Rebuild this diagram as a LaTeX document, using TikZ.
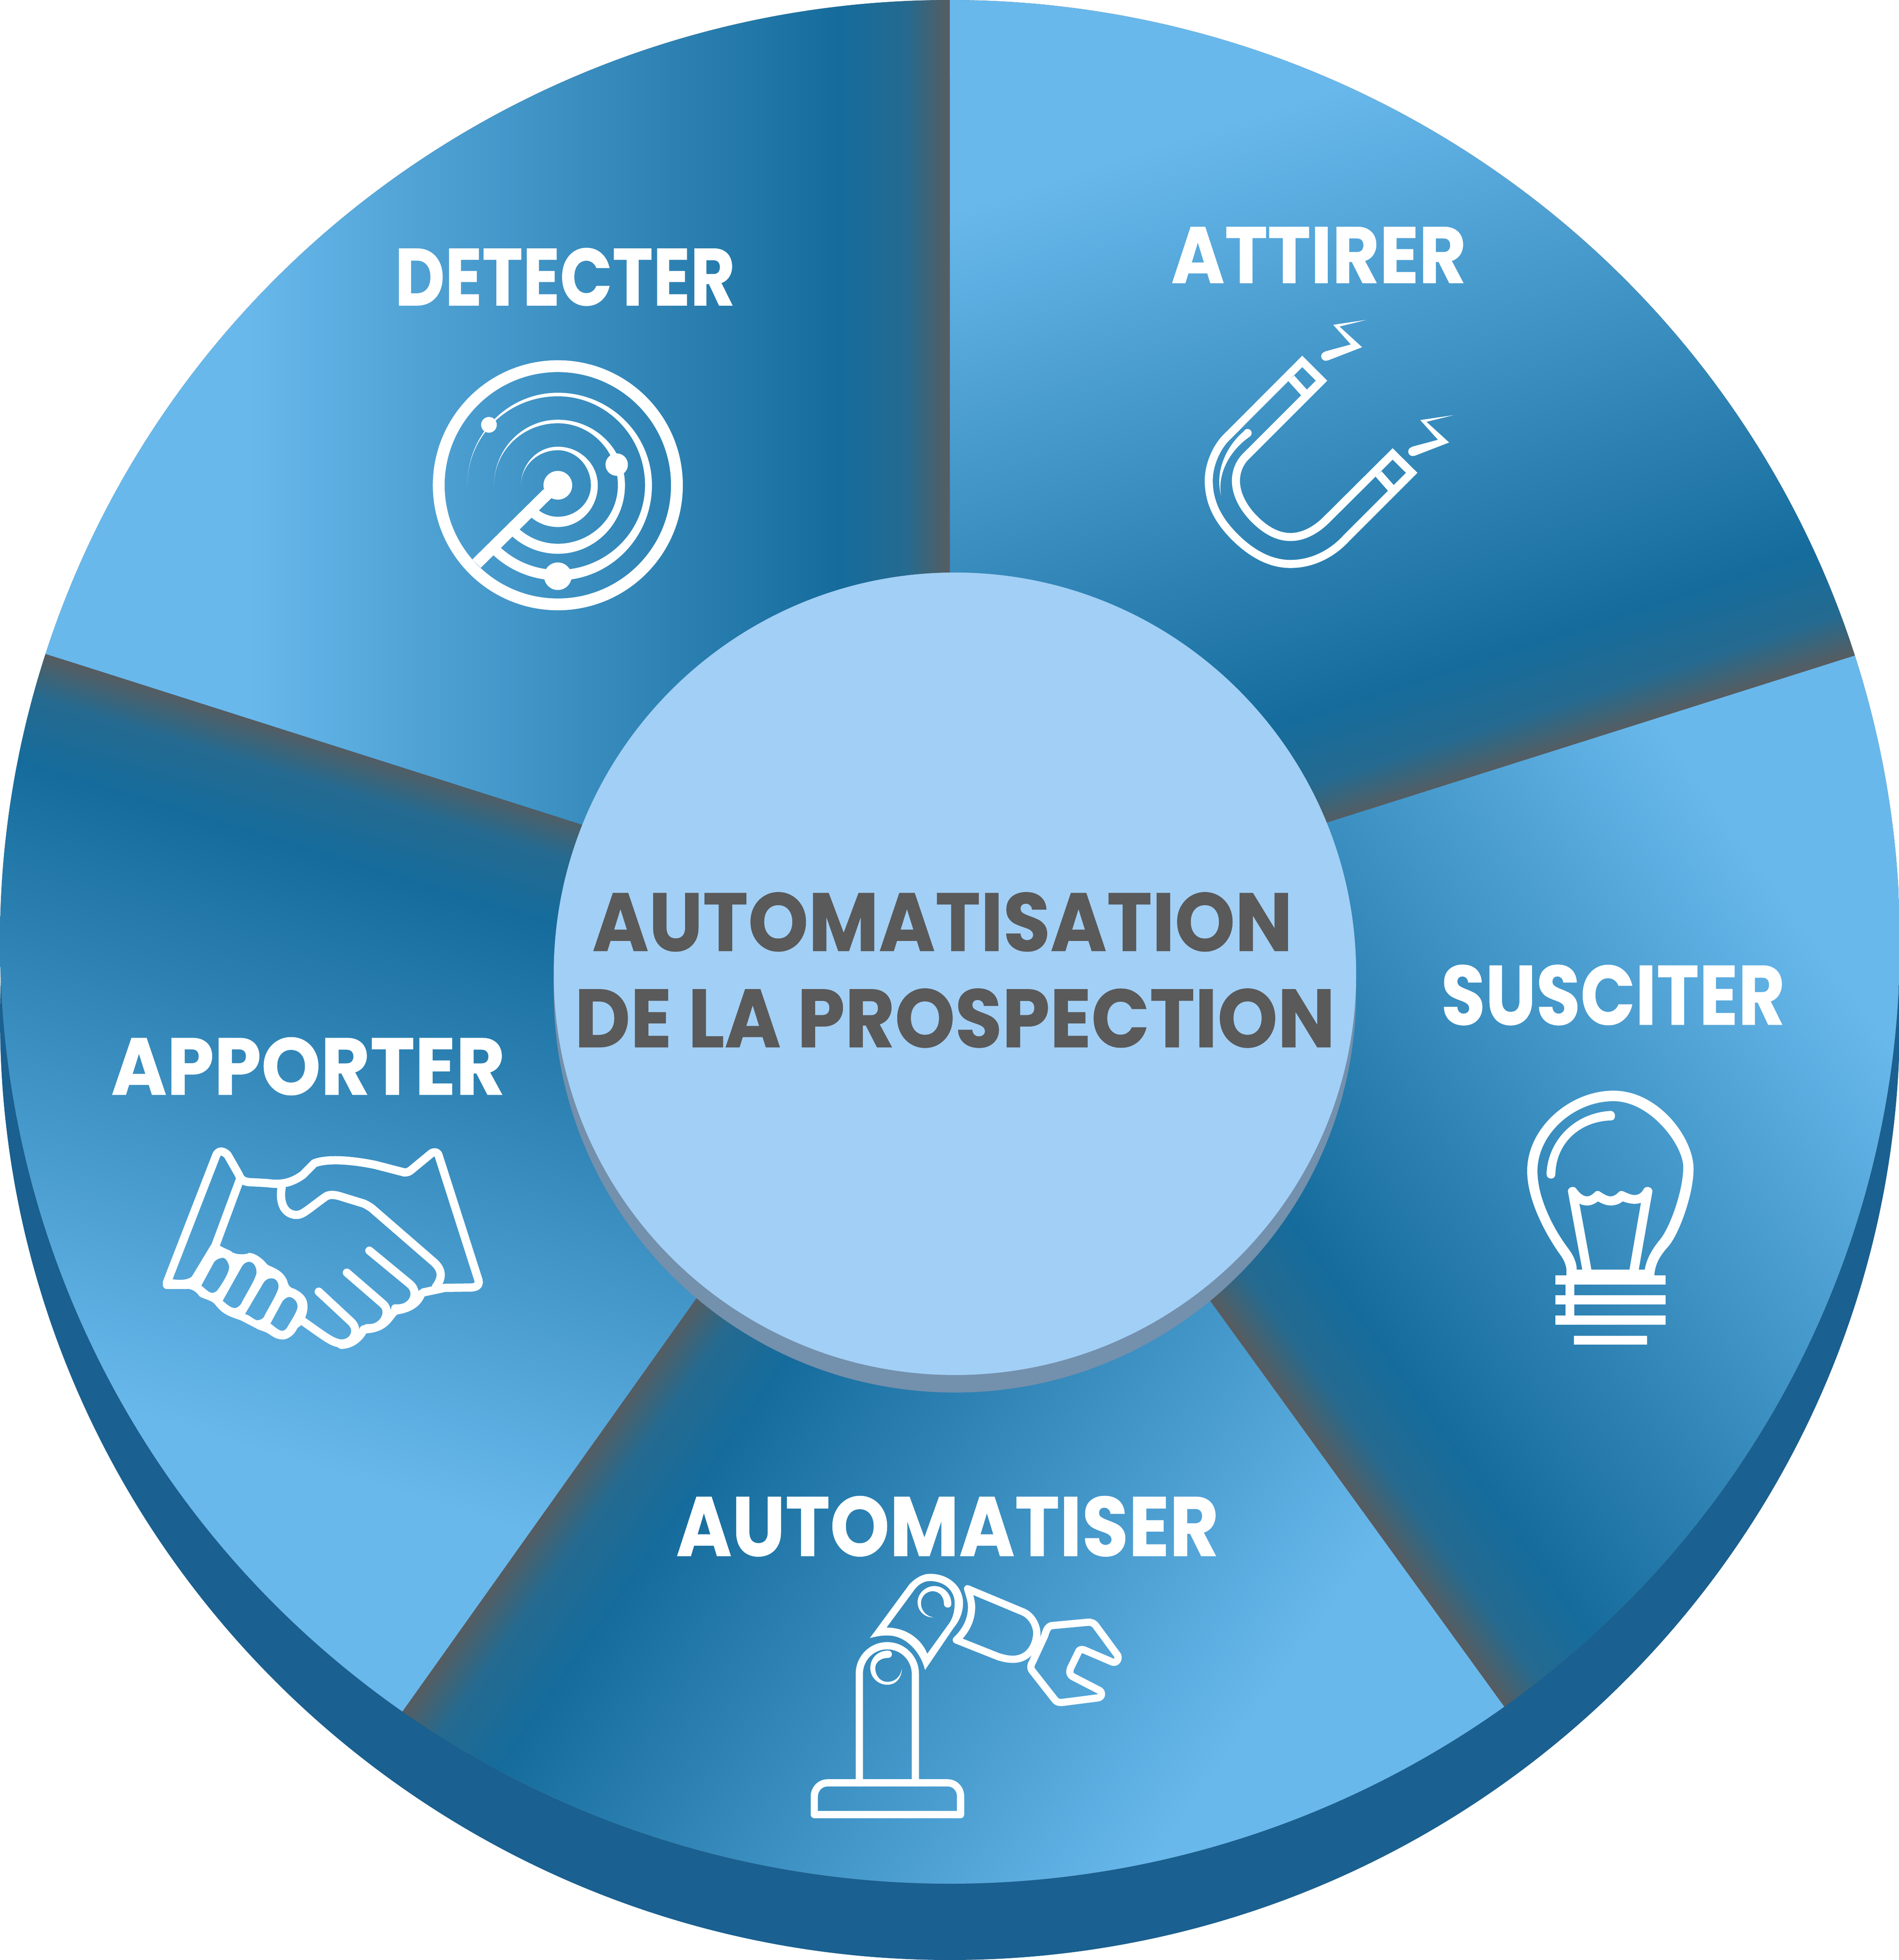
\documentclass[tikz,border=0pt]{standalone}
\usepackage{fontspec}
\usepackage{graphicx}
\usetikzlibrary{calc}
\setmainfont{Poppins}[BoldFeatures={FakeBold=0.4}]
\definecolor{wedgegrey}{HTML}{575C60}
\definecolor{wedgemixa}{HTML}{3C6478}
\definecolor{wedgemixb}{HTML}{256A90}
\definecolor{wedgedark}{HTML}{156C9C}
\definecolor{wedgelight}{HTML}{68B8EC}
\definecolor{backdisc}{HTML}{1A6090}
\definecolor{hubshadow}{HTML}{7390AD}
\definecolor{hubfill}{HTML}{A2CFF5}
\definecolor{hubtext}{HTML}{5A5A5A}
\pgfdeclarehorizontalshading{wedgefill}{100bp}{color(0bp)=(wedgegrey); color(1.8bp)=(wedgemixa); color(3.5bp)=(wedgemixb); color(8.8bp)=(wedgedark); color(56bp)=(wedgelight); color(100bp)=(wedgelight)}
\newcommand{\wedgeramp}[2]{\begin{scope}[shift={#1},rotate=#2,xscale=2.835,yscale=8]
    \pgftransformshift{\pgfpoint{50bp}{0bp}}\pgflowlevelsynccm\pgfuseshading{wedgefill}
  \end{scope}}
\newcommand{\fitlabel}[3]{\resizebox{#1cm}{#2cm}{\bfseries #3}}
\tikzset{
  wheellabel/.style={text=white,inner sep=0pt},
  hublabel/.style={text=hubtext,inner sep=0pt},
  iconline/.style={draw=white,line width=0.058cm,line join=round,line cap=round},
  handline/.style={iconline,line width=0.066cm},
  magnetline/.style={draw=white,line width=0.0646cm,miter limit=10}
}
\begin{document}
\begin{tikzpicture}[x=0.01cm,y=0.01cm,yscale=-1]
  \useasboundingbox (0,0) rectangle (1519.3,1568);
  \fill[backdisc] (760,814.5) ellipse[x radius=760,y radius=753.5];

  % the five wedges
  \coordinate (wheel) at (760,753.5);
  \foreach \afrom/\ato/\aramp in {197.8/270/180,270/342.3/-107.9,342.3/414.3/-35.8,54.3/125.2/35.2,125.2/197.8/106.9}{
    \begin{scope}
      \clip (wheel) -- ++({760*cos(\afrom)},{753.5*sin(\afrom)}) arc[start angle=\afrom,end angle=\ato,x radius=760,y radius=753.5] -- cycle;
      \fill[wedgegrey] (0,0) rectangle (1520,1568);
      \wedgeramp{($(wheel)+({760*cos(\ato)},{753.5*sin(\ato)})$)}{\aramp}
    \end{scope}
  }

  % radar
  \begin{scope}[shift={(446.3,388.2)},scale=0.1575]
    \draw[white,line width=0.0945cm] (0,0) circle[radius=605];
    \foreach \rl/\rt/\rr/\rb/\ia/\ib/\ic in {460/470/478/483/430/443/452,324/333/341/348/297/305/315,187/196/203/212/160/168/178}{
      \fill[white] (180:\rl) arc[start angle=180,end angle=270,x radius=\rl,y radius=\rt]
        arc[start angle=-90,end angle=0,x radius=\rr,y radius=\rt]
        arc[start angle=0,end angle=90,x radius=\rr,y radius=\rb]
        arc[start angle=90,end angle=135,radius=\rb]
        -- (135:\ia) arc[start angle=135,end angle=90,radius=\ia]
        arc[start angle=90,end angle=0,x radius=\ib,y radius=\ia]
        arc[start angle=0,end angle=-90,x radius=\ib,y radius=\ic]
        arc[start angle=270,end angle=180,x radius=\rl,y radius=\ic] -- cycle;
    }
    \draw[white,line width=0.0945cm] (-52,42) -- (-413,398);
    \fill[white] (0,0) circle[radius=73];
    \fill[white] (-350,-307) circle[radius=40];
    \fill[white] (299,-105) circle[radius=57];
    \fill[white] (0,462) circle[radius=70];
  \end{scope}

  % magnet
  \begin{scope}[shift={(935.1,229.4)},scale=0.1575]
    \draw[magnetline] (678,379) -- (776,477) -- (388,865) .. controls (355,900) and (341,945) .. (341,985)
      .. controls (341,1060) and (385,1130) .. (435,1180) .. controls (490,1235) and (550,1271) .. (618,1271)
      .. controls (685,1271) and (750,1235) .. (804,1180) -- (1137,849) -- (1234,945) -- (900,1279)
      .. controls (830,1355) and (730,1408) .. (618,1408) .. controls (510,1408) and (410,1350) .. (320,1255)
      .. controls (250,1180) and (203,1095) .. (203,985) .. controls (203,900) and (245,815) .. (288,770) -- cycle;
    \draw[magnetline] (622,465) -- (688,538);
    \draw[magnetline] (1065,950) -- (1130,1024);
    \fill[white] (386,730) .. controls (300,800) and (230,930) .. (266,1062)
      .. controls (245,950) and (310,830) .. (413,760) -- cycle;
    \fill[white] (400,743) circle[radius=21];
    \foreach \sx/\sy in {0/0,442/484}{
      \begin{scope}[shift={(\sx,\sy)}]
        \fill[white] (1005,168) -- (835,193) -- (925,293) -- (792,329) -- (806,375) -- (982,307) -- (867,202) -- cycle;
        \fill[white] (797,353) circle[radius=23];
      \end{scope}
    }
  \end{scope}

  % bulb
  \begin{scope}[shift={(1199.7,846.9)},xscale=0.11762,yscale=0.16201]
    \fill[white] (455,1075) -- (455,1040) .. controls (450,1005) and (425,980) .. (400,955)
      .. controls (300,850) and (188,690) .. (188,555) .. controls (188,340) and (480,158) .. (775,158)
      .. controls (1080,158) and (1320,390) .. (1320,545) .. controls (1320,670) and (1220,870) .. (1145,930)
      .. controls (1095,970) and (1055,1015) .. (1053,1075) -- (988,1075) -- (988,1042)
      .. controls (1000,985) and (1045,935) .. (1090,895) .. controls (1160,835) and (1250,650) .. (1250,535)
      .. controls (1250,430) and (1030,210) .. (775,210) .. controls (510,210) and (258,370) .. (258,555)
      .. controls (258,690) and (370,845) .. (470,940) .. controls (500,970) and (525,1005) .. (525,1042)
      -- (525,1075) -- cycle;
    \fill[white] (465,655) .. controls (465,635) and (505,625) .. (522,642) .. controls (545,665) and (570,680) .. (595,680)
      .. controls (620,680) and (640,665) .. (655,655) .. controls (665,652) and (675,652) .. (690,660)
      .. controls (710,670) and (735,680) .. (755,680) .. controls (780,680) and (800,668) .. (812,658)
      .. controls (822,652) and (835,652) .. (850,658) .. controls (880,668) and (905,675) .. (925,673)
      .. controls (950,672) and (970,660) .. (982,642) .. controls (1000,625) and (1040,635) .. (1040,655)
      -- (945,1050) -- (882,1050) -- (962,712) .. controls (920,722) and (880,715) .. (838,705)
      .. controls (810,720) and (785,725) .. (755,725) .. controls (725,725) and (695,715) .. (670,705)
      .. controls (645,718) and (620,725) .. (600,725) .. controls (575,725) and (555,722) .. (543,715)
      -- (627,1050) -- (565,1050) -- cycle;
    \fill[white] (320,570) .. controls (325,420) and (490,270) .. (755,258) .. controls (795,258) and (795,305) .. (760,305)
      .. controls (540,310) and (385,420) .. (380,570) .. controls (380,600) and (320,600) .. (320,570) -- cycle;
    \fill[white] (455,1042) rectangle (1053,1070);
    \foreach \by in {1070,1169,1269}{
      \fill[white] (380,\by) rectangle (1131,\by+45);
    }
    \fill[white] (449,1115) rectangle (510,1269);
    \fill[white] (506,1368) rectangle (1004,1412);
  \end{scope}

  % robot arm
  \begin{scope}[shift={(635.1,1235)},xscale=0.18002,yscale=0.15302]
    \draw[iconline] (91,1416) -- (741,1416) -- (741,1320) .. controls (741,1280) and (715,1250) .. (685,1250)
      -- (150,1250) .. controls (115,1250) and (91,1285) .. (91,1320) -- cycle;
    \draw[iconline] (291,1250) -- (291,680) .. controls (291,600) and (345,533) .. (415,533)
      .. controls (485,533) and (540,600) .. (540,680) -- (540,1250);
    \fill[white] (418,558) .. controls (370,560) and (340,600) .. (340,650) .. controls (340,700) and (375,737) .. (415,737)
      .. controls (455,737) and (480,700) .. (480,652) .. controls (475,695) and (450,722) .. (415,722)
      .. controls (385,722) and (362,690) .. (362,650) .. controls (362,620) and (385,597) .. (418,597)
      .. controls (442,597) and (442,558) .. (418,558) -- cycle;
    \fill[white,even odd rule] (338,493) -- (515,210) .. controls (545,175) and (575,157) .. (605,157)
      .. controls (690,157) and (752,225) .. (752,310) .. controls (752,360) and (735,405) .. (710,440) -- (583,660)
      .. controls (565,570) and (500,480) .. (420,480) .. controls (390,478) and (365,485) .. (338,493) -- cycle
      (412,438) -- (530,250) .. controls (550,215) and (575,195) .. (605,195) .. controls (670,195) and (715,245) .. (715,310)
      .. controls (715,355) and (705,395) .. (685,425) -- (593,575) .. controls (570,505) and (505,438) .. (412,438) -- cycle;
    \fill[white] (700,315) .. controls (700,260) and (665,221) .. (625,221) .. controls (585,221) and (550,260) .. (550,305)
      .. controls (550,350) and (580,387) .. (622,385) .. controls (590,380) and (565,350) .. (565,310)
      .. controls (565,275) and (590,248) .. (617,248) .. controls (645,248) and (667,275) .. (667,313)
      .. controls (667,340) and (700,340) .. (700,315) -- cycle;
    \draw[iconline] (772,235) -- (1022,358) .. controls (1060,380) and (1080,430) .. (1080,470)
      .. controls (1075,550) and (1035,603) .. (975,604) .. controls (950,604) and (930,598) .. (908,590) -- (722,503)
      .. controls (770,450) and (790,390) .. (790,330) .. controls (790,300) and (780,265) .. (772,235) -- cycle;
    \draw[iconline] (1145,428) -- (1310,410) .. controls (1325,410) and (1335,418) .. (1340,425) -- (1440,585)
      .. controls (1445,610) and (1430,625) .. (1415,618) -- (1290,555) .. controls (1275,550) and (1268,555) .. (1265,565)
      -- (1230,650) .. controls (1222,675) and (1230,690) .. (1240,695) -- (1360,768) .. controls (1372,780) and (1370,803) .. (1350,806)
      -- (1190,830) .. controls (1175,830) and (1165,825) .. (1160,815) -- (1060,665) .. controls (1050,650) and (1052,635) .. (1060,620)
      -- (1115,480) .. controls (1122,450) and (1130,432) .. (1145,428) -- cycle;
  \end{scope}

  % handshake
  \begin{scope}[shift={(120,903.3)},xscale=0.18002,yscale=0.12151]
    \draw[handline] (400,330) -- (290,770) -- (215,960) .. controls (190,1030) and (130,1025) .. (75,1010)
      -- (295,170) .. controls (305,140) and (325,140) .. (345,170) -- (395,300)
      .. controls (405,345) and (430,350) .. (460,350) -- (520,355) .. controls (570,365) and (620,365) .. (680,300)
      -- (730,225) .. controls (790,190) and (900,205) .. (1000,235) -- (1130,285) .. controls (1150,285) and (1155,275) .. (1160,270)
      -- (1250,160) .. controls (1265,145) and (1280,155) .. (1282,170) -- (1460,995)
      .. controls (1465,1030) and (1450,1043) .. (1420,1043) -- (1310,1045) -- (1215,1075);
    \draw[handline] (585,385) .. controls (575,470) and (590,560) .. (650,565) .. controls (680,565) and (700,530) .. (780,445)
      .. controls (795,430) and (815,430) .. (840,440) -- (950,490) .. controls (965,500) and (975,510) .. (985,520)
      -- (1265,880) .. controls (1300,930) and (1300,980) .. (1270,1040);
    \draw[handline] (975,800) -- (1155,1020) .. controls (1200,1075) and (1170,1190) .. (1090,1180);
    \draw[handline] (875,945) -- (1035,1150) .. controls (1075,1200) and (1040,1320) .. (965,1310);
    \draw[handline] (750,1070) -- (895,1270) .. controls (930,1320) and (910,1410) .. (850,1412)
      .. controls (810,1405) and (790,1380) .. (680,1265);
    \draw[handline] (1205,1085) .. controls (1190,1140) and (1160,1180) .. (1090,1195) .. controls (1060,1230) and (1050,1315) .. (950,1318)
      .. controls (930,1380) and (890,1420) .. (850,1420);
    \draw[handline] (75,1025) -- (165,1025);
    \fill[white,even odd rule] (312,768) .. controls (335,790) and (355,795) .. (365,810) .. controls (380,825) and (420,830) .. (440,815)
      .. controls (470,815) and (505,860) .. (520,890) .. controls (530,905) and (590,920) .. (610,1000)
      .. controls (615,1035) and (625,1045) .. (640,1050) .. controls (680,1080) and (700,1110) .. (700,1170)
      .. controls (700,1200) and (695,1220) .. (690,1240) -- (670,1293) -- (655,1310) .. controls (640,1360) and (610,1385) .. (590,1385)
      .. controls (560,1385) and (540,1360) .. (525,1345) .. controls (500,1325) and (485,1325) .. (470,1310)
      -- (405,1260) .. controls (360,1235) and (325,1225) .. (290,1155) .. controls (275,1125) and (230,1115) .. (220,1100)
      .. controls (205,1070) and (190,1050) .. (150,1048) -- (170,1010) -- (272,760) -- cycle
      (228,1030) -- (285,875) .. controls (295,855) and (315,847) .. (325,847) .. controls (340,850) and (352,890) .. (352,910)
      .. controls (350,950) and (320,1020) .. (300,1060) .. controls (295,1070) and (285,1078) .. (275,1078) .. controls (260,1075) and (245,1050) .. (228,1030) -- cycle
      (323,1130) -- (408,905) .. controls (415,885) and (430,873) .. (440,873) .. controls (465,875) and (475,915) .. (473,950)
      .. controls (465,1000) and (425,1090) .. (405,1150) .. controls (395,1170) and (385,1178) .. (375,1178) .. controls (355,1175) and (335,1145) .. (323,1130) -- cycle
      (422,1218) -- (505,1010) .. controls (515,990) and (525,982) .. (540,982) .. controls (565,982) and (575,1020) .. (570,1050)
      .. controls (560,1100) and (525,1180) .. (505,1240) .. controls (495,1255) and (485,1258) .. (475,1258) .. controls (455,1250) and (445,1225) .. (422,1218) -- cycle
      (535,1280) -- (590,1130) .. controls (600,1115) and (610,1105) .. (620,1105) .. controls (645,1110) and (660,1150) .. (655,1180)
      .. controls (645,1225) and (625,1265) .. (610,1305) .. controls (605,1320) and (595,1328) .. (585,1328) .. controls (565,1320) and (550,1295) .. (535,1280) -- cycle;
  \end{scope}

  % hub
  \fill[hubshadow] (764,793) circle[radius=321];
  \fill[hubfill] (764,779) circle[radius=321];

  % labels
  \node[wheellabel] (detecter) at (452,221.5) {\fitlabel{2.72}{0.46}{DETECTER}};
  \node[wheellabel] (attirer) at (1055,204) {\fitlabel{2.36}{0.45}{ATTIRER}};
  \node[wheellabel] (susciter) at (1290.5,796) {\fitlabel{2.75}{0.48}{SUSCITER}};
  \node[wheellabel] (apporter) at (246.5,853) {\fitlabel{3.15}{0.46}{APPORTER}};
  \node[wheellabel] (automatiser) at (758,1221) {\fitlabel{4.34}{0.48}{AUTOMATISER}};
  \node[hublabel] (hubtop) at (754,737.5) {\fitlabel{5.60}{0.47}{AUTOMATISATION}};
  \node[hublabel] (hubbottom) at (764,814.5) {\fitlabel{6.08}{0.47}{DE LA PROSPECTION}};
\end{tikzpicture}
\end{document}
